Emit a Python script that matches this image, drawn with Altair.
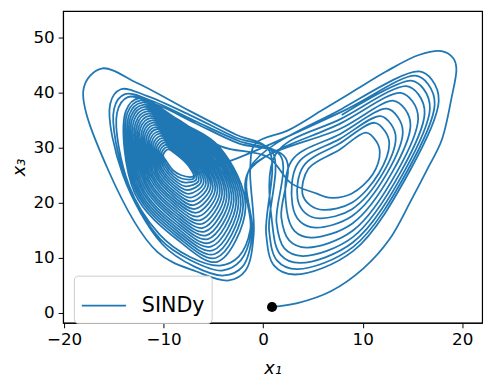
import altair as alt
import pandas as pd

X_TICKS = [-20, -10, 0, 10, 20]
Y_TICKS = [0, 10, 20, 30, 40, 50]

DOT_X, DOT_Y = 0.89, 1.08

# initial transient (dot -> big right loop -> across the centre)
START_X = [0.89, 3.45, 6.80, 10.05, 12.71, 14.9, 16.6, 17.93, 18.92, 19.41, 19.1, 17.93, 15.64, 12.35, 9.06, 5.78, 2.5, -0.79]
START_Y = [1.08, 1.79, 3.94, 8.06, 13.44, 20.6, 26.5, 31.4, 39.07, 44.5, 46.3, 47.6, 46.9, 43.9, 40.3, 36.7, 33.2, 30.8]

# outer left-wing loops (pass through the V at x ~ -1)
OUTER_LEFT_X = [
    [-1.3, -0.95, -1.77, -3.45, -6.70, -10.64, -15.57, -18.03, -16.26, -12.61, -7.39, -2.76],
    [-1.35, -1.08, -2.07, -3.94, -6.90, -10.15, -14.09, -15.37, -14.29, -11.63, -7.19, -2.76],
    [-1.4, -1.18, -2.27, -4.14, -7.19, -10.34, -13.79, -14.98, -13.89, -11.13, -6.90, -2.56],
    [-1.5, -1.28, -2.46, -4.33, -7.39, -10.44, -13.50, -14.68, -13.60, -10.84, -6.70, -2.46],
]
OUTER_LEFT_Y = [
    [26.5, 14.34, 7.71, 5.91, 7.53, 11.11, 25.99, 40.86, 44.44, 41.76, 36.74, 32.44],
    [26.3, 14.34, 8.42, 6.81, 8.42, 12.54, 25.09, 37.99, 40.68, 39.43, 35.84, 31.90],
    [26.0, 14.87, 9.50, 7.71, 9.50, 13.44, 24.19, 37.10, 39.78, 38.53, 34.95, 31.36],
    [25.6, 15.23, 10.22, 8.60, 10.22, 14.34, 23.30, 36.38, 39.25, 37.99, 34.41, 30.82],
]

# dense left-wing spiral, inner -> outer, key points of each turn
LD_E_X = [-7.19, -6.95, -6.72, -6.48, -6.25, -6.01, -5.78, -5.54, -5.30, -5.07, -4.83, -4.60, -4.36, -4.13, -3.89, -3.66, -3.42, -3.18, -2.95, -2.71, -2.48, -2.24, -2.01, -1.77]
LD_E_Y = [24.73, 24.49, 24.25, 24.01, 23.77, 23.52, 23.28, 23.04, 22.80, 22.56, 22.32, 22.08, 21.83, 21.59, 21.35, 21.11, 20.87, 20.63, 20.39, 20.15, 19.90, 19.66, 19.42, 19.18]
LD_S_X = [-8.28, -8.12, -7.96, -7.80, -7.64, -7.48, -7.32, -7.16, -7.00, -6.84, -6.68, -6.52, -6.36, -6.20, -6.04, -5.88, -5.72, -5.56, -5.40, -5.24, -5.08, -4.92, -4.76, -4.60]
LD_S_Y = [25.09, 24.40, 23.72, 23.03, 22.34, 21.66, 20.97, 20.28, 19.60, 18.91, 18.22, 17.54, 16.85, 16.17, 15.48, 14.79, 14.11, 13.42, 12.73, 12.05, 11.36, 10.67, 9.99, 9.30]
LD_SS_X = [-9.06, -9.04, -9.02, -9.00, -8.98, -8.96, -8.94, -8.92, -8.90, -8.88, -8.86, -8.84, -8.82, -8.80, -8.78, -8.76, -8.74, -8.72, -8.70, -8.68, -8.66, -8.64, -8.62, -8.60]
LD_SS_Y = [25.94, 25.39, 24.84, 24.29, 23.74, 23.19, 22.64, 22.09, 21.54, 20.99, 20.44, 19.89, 19.35, 18.80, 18.25, 17.70, 17.15, 16.60, 16.05, 15.50, 14.95, 14.40, 13.85, 13.30]
LD_SW_X = [-9.66, -9.80, -9.94, -10.08, -10.22, -10.36, -10.51, -10.65, -10.79, -10.93, -11.07, -11.21, -11.35, -11.49, -11.63, -11.77, -11.91, -12.06, -12.20, -12.34, -12.48, -12.62, -12.76, -12.90]
LD_SW_Y = [27.42, 27.18, 26.93, 26.69, 26.44, 26.20, 25.96, 25.71, 25.47, 25.22, 24.98, 24.73, 24.49, 24.24, 24.00, 23.76, 23.51, 23.27, 23.02, 22.78, 22.53, 22.29, 22.05, 21.80]
LD_WL_X = [-10.05, -10.21, -10.38, -10.54, -10.70, -10.86, -11.03, -11.19, -11.35, -11.51, -11.68, -11.84, -12.00, -12.16, -12.33, -12.49, -12.65, -12.81, -12.98, -13.14, -13.30, -13.46, -13.63, -13.79]
LD_WL_Y = [28.67, 29.02, 29.37, 29.72, 30.07, 30.42, 30.78, 31.13, 31.48, 31.83, 32.18, 32.53, 32.88, 33.23, 33.58, 33.93, 34.28, 34.63, 34.99, 35.34, 35.69, 36.04, 36.39, 36.74]
LD_WT_X = [-9.56, -9.68, -9.81, -9.93, -10.06, -10.18, -10.30, -10.43, -10.55, -10.68, -10.80, -10.92, -11.05, -11.17, -11.29, -11.42, -11.54, -11.67, -11.79, -11.91, -12.04, -12.16, -12.29, -12.41]
LD_WT_Y = [29.75, 30.16, 30.56, 30.97, 31.37, 31.78, 32.18, 32.59, 32.99, 33.40, 33.80, 34.21, 34.61, 35.02, 35.42, 35.83, 36.23, 36.64, 37.04, 37.45, 37.85, 38.26, 38.66, 39.07]
LD_N_X = [-8.87, -8.86, -8.85, -8.84, -8.84, -8.83, -8.82, -8.81, -8.80, -8.79, -8.78, -8.77, -8.77, -8.76, -8.75, -8.74, -8.73, -8.72, -8.71, -8.70, -8.70, -8.69, -8.68, -8.67]
LD_N_Y = [29.03, 29.30, 29.58, 29.85, 30.12, 30.39, 30.67, 30.94, 31.21, 31.48, 31.76, 32.03, 32.30, 32.57, 32.85, 33.12, 33.39, 33.66, 33.94, 34.21, 34.48, 34.75, 35.03, 35.30]
LD_NE_X = [-7.49, -7.35, -7.21, -7.07, -6.92, -6.78, -6.64, -6.50, -6.36, -6.22, -6.08, -5.94, -5.79, -5.65, -5.51, -5.37, -5.23, -5.09, -4.95, -4.81, -4.66, -4.52, -4.38, -4.24]
LD_NE_Y = [26.70, 26.86, 27.01, 27.17, 27.32, 27.48, 27.64, 27.79, 27.95, 28.10, 28.26, 28.42, 28.57, 28.73, 28.89, 29.04, 29.20, 29.35, 29.51, 29.67, 29.82, 29.98, 30.13, 30.29]

# way points where the path crosses the centre
ENTER_LEFT_X = [-2.5, -6.0]
ENTER_LEFT_Y = [28.2, 25.9]
EXIT_LEFT_X = [0.5, 2.8]
EXIT_LEFT_Y = [28.3, 23.6]

# right-wing loops, inner (1) -> outer (10)
R_C_X = [5.32, 4.56, 4.04, 3.48, 2.86, 2.25, 1.73, 1.30, 0.92, 0.59]
R_C_Y = [25.63, 26.26, 26.69, 27.17, 27.68, 28.19, 28.62, 28.98, 29.29, 29.57]
R_L_X = [4.63, 3.94, 3.46, 2.94, 2.38, 1.82, 1.34, 0.95, 0.60, 0.30]
R_L_Y = [23.12, 21.72, 20.75, 19.70, 18.55, 17.41, 16.45, 15.66, 14.95, 14.34]
R_LB_X = [5.40, 4.71, 4.24, 3.72, 3.16, 2.61, 2.13, 1.75, 1.40, 1.10]
R_LB_Y = [21.70, 19.60, 18.16, 16.59, 14.89, 13.19, 11.74, 10.57, 9.52, 8.60]
R_B_X = [6.60, 6.05, 5.67, 5.25, 4.81, 4.36, 3.98, 3.67, 3.39, 3.15]
R_B_Y = [20.97, 18.73, 17.20, 15.52, 13.70, 11.88, 10.35, 9.09, 7.97, 6.99]
R_LR1_X = [8.87, 8.90, 8.92, 8.94, 8.97, 8.99, 9.01, 9.03, 9.05, 9.06]
R_LR1_Y = [21.68, 20.02, 18.87, 17.63, 16.28, 14.93, 13.78, 12.85, 12.02, 11.29]
R_LR2_X = [11.03, 11.63, 12.04, 12.49, 12.98, 13.47, 13.88, 14.22, 14.52, 14.78]
R_LR2_Y = [25.27, 25.39, 25.46, 25.55, 25.64, 25.74, 25.82, 25.88, 25.94, 25.99]
R_R_X = [11.72, 12.67, 13.32, 14.03, 14.80, 15.57, 16.22, 16.75, 17.23, 17.64]
R_R_Y = [29.21, 30.70, 31.73, 32.84, 34.06, 35.27, 36.29, 37.13, 37.88, 38.53]
R_RT_X = [11.33, 12.23, 12.85, 13.52, 14.25, 14.98, 15.60, 16.11, 16.56, 16.95]
R_RT_Y = [31.30, 33.08, 34.30, 35.63, 37.07, 38.52, 39.74, 40.74, 41.62, 42.40]
R_T_X = [10.34, 11.19, 11.78, 12.42, 13.11, 13.80, 14.39, 14.87, 15.30, 15.67]
R_T_Y = [32.80, 34.58, 35.80, 37.13, 38.58, 40.02, 41.24, 42.24, 43.13, 43.91]
R_UL_X = [7.63, 7.68, 7.71, 7.75, 7.79, 7.83, 7.86, 7.89, 7.91, 7.93]
R_UL_Y = [29.62, 30.82, 31.65, 32.55, 33.53, 34.51, 35.33, 36.01, 36.61, 37.14]

xs, ys = [], []


def add(px, py):
    xs.extend(px)
    ys.extend(py)


def right_loop(j, first=0):
    px = [R_C_X[j], R_L_X[j], R_LB_X[j], R_B_X[j], R_LR1_X[j], R_LR2_X[j], R_R_X[j], R_RT_X[j], R_T_X[j], R_UL_X[j]]
    py = [R_C_Y[j], R_L_Y[j], R_LB_Y[j], R_B_Y[j], R_LR1_Y[j], R_LR2_Y[j], R_R_Y[j], R_RT_Y[j], R_T_Y[j], R_UL_Y[j]]
    add(px[first:], py[first:])


def left_outer(k):
    add(OUTER_LEFT_X[k], OUTER_LEFT_Y[k])


def left_dense(k):
    add([LD_E_X[k], LD_S_X[k], LD_SS_X[k], LD_SW_X[k], LD_WL_X[k], LD_WT_X[k], LD_N_X[k], LD_NE_X[k]],
        [LD_E_Y[k], LD_S_Y[k], LD_SS_Y[k], LD_SW_Y[k], LD_WL_Y[k], LD_WT_Y[k], LD_N_Y[k], LD_NE_Y[k]])


add(START_X, START_Y)
left_outer(0)
right_loop(9)
left_outer(1)
right_loop(8)
add(ENTER_LEFT_X, ENTER_LEFT_Y)
for k in range(len(LD_E_X)):
    left_dense(k)
add(EXIT_LEFT_X, EXIT_LEFT_Y)
right_loop(0, first=2)
for j in range(1, 5):
    right_loop(j)
left_outer(2)
right_loop(5)
left_outer(3)
right_loop(6)
right_loop(7)

traj = pd.DataFrame({"x": xs, "y": ys, "i": list(range(len(xs))), "series": ["SINDy"] * len(xs)})
dot = pd.DataFrame({"x": [DOT_X], "y": [DOT_Y]})

FONT = "DejaVu Sans"
xscale = alt.Scale(domain=[-20.1, 22.0], nice=False, zero=False)
yscale = alt.Scale(domain=[-1.8, 54.9], nice=False, zero=False)

line = alt.Chart(traj).mark_line(interpolate="catmull-rom", strokeWidth=1.8).encode(
    x=alt.X("x:Q", scale=xscale,
            axis=alt.Axis(values=X_TICKS, title="x₁", titleFontStyle="italic", titlePadding=12)),
    y=alt.Y("y:Q", scale=yscale,
            axis=alt.Axis(values=Y_TICKS, title="x₃", titleFontStyle="italic", titlePadding=5)),
    color=alt.Color("series:N", scale=alt.Scale(domain=["SINDy"], range=["#1f77b4"]),
                    legend=alt.Legend(title=None, orient="none", legendX=11, legendY=269,
                                      symbolType="stroke", symbolSize=2025, symbolStrokeWidth=2,
                                      labelFontSize=21, labelFont=FONT, labelColor="black",
                                      labelOffset=15, padding=7, strokeColor="#cccccc",
                                      fillColor="white", cornerRadius=4)),
    order="i:Q",
)

pt = alt.Chart(dot).mark_circle(size=105, color="black", opacity=1).encode(
    x=alt.X("x:Q", scale=xscale), y=alt.Y("y:Q", scale=yscale))

chart = (line + pt).properties(
    width=426, height=317,
    autosize=alt.AutoSizeParams(type="none"),
    padding={"left": 56, "top": 0, "right": 9, "bottom": 52},
).configure_view(stroke="black", strokeWidth=1.2).configure_axis(
    grid=False, domainColor="black", tickColor="black", tickSize=5, tickWidth=1,
    labelFont=FONT, labelFontSize=17, labelColor="black", labelPadding=4,
    titleFont=FONT, titleFontSize=18, titleFontWeight="normal", titleColor="black",
)

chart.save("out.html", embed_options={"renderer": "svg", "actions": False})
